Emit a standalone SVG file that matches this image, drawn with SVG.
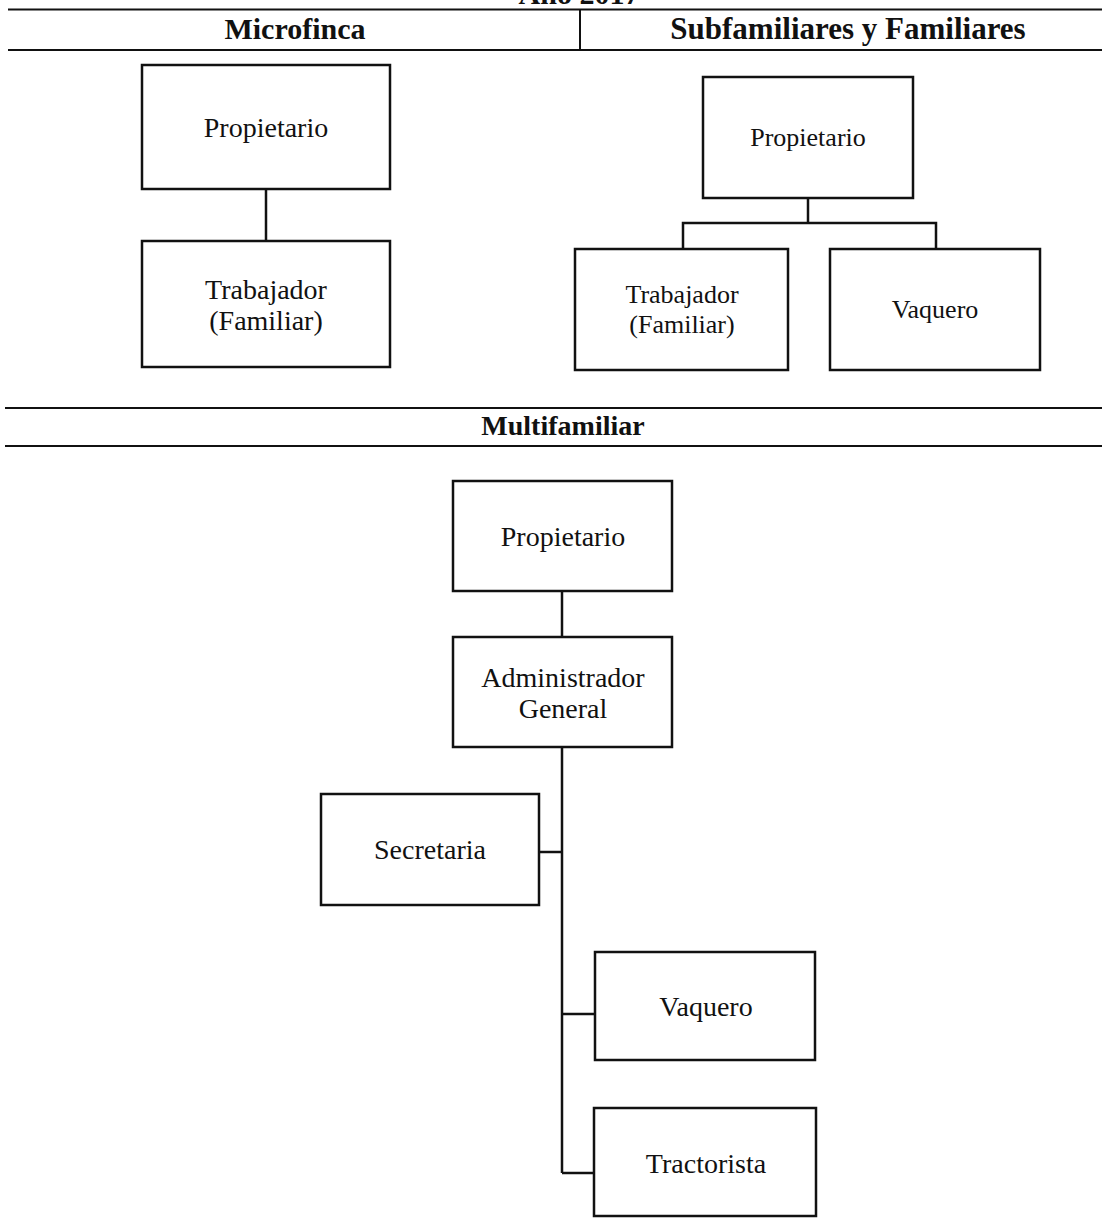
<svg xmlns="http://www.w3.org/2000/svg" width="1102" height="1218" viewBox="0 0 1102 1218">
<style>
.box{fill:#fff;stroke:#111;stroke-width:2.5}
.rule{stroke:#111;stroke-width:2;fill:none}
.conn{stroke:#111;stroke-width:2.5;fill:none}
.t{font-family:"Liberation Serif","Times New Roman",serif;font-size:28px;fill:#111;text-anchor:middle}
.ts{font-family:"Liberation Serif","Times New Roman",serif;font-size:26px;fill:#111;text-anchor:middle}
.h{font-family:"Liberation Serif","Times New Roman",serif;font-size:30px;font-weight:bold;fill:#111;text-anchor:middle}
</style>
<rect width="1102" height="1218" fill="#fff"/>
<g id="header">
<text x="579" y="4" class="h">Año 2017</text>
<line class="rule" x1="8" y1="9.5" x2="1102" y2="9.5"/>
<line class="rule" x1="8" y1="50" x2="1102" y2="50"/>
<line class="rule" x1="580" y1="9.5" x2="580" y2="50"/>
<text x="295" y="39" class="h">Microfinca</text>
<text x="848" y="39" class="h" style="font-size:31px">Subfamiliares y Familiares</text>
<line class="rule" x1="5" y1="408" x2="1102" y2="408"/>
<line class="rule" x1="5" y1="446" x2="1102" y2="446"/>
<text x="563" y="435" class="h" style="font-size:28px">Multifamiliar</text>
</g>
<g id="connectors">
<line class="conn" x1="266" y1="190" x2="266" y2="241"/>
<polyline class="conn" points="808,198 808,223"/>
<polyline class="conn" points="683,249 683,223 936,223 936,249"/>
<line class="conn" x1="562" y1="591" x2="562" y2="637"/>
<line class="conn" x1="562" y1="747" x2="562" y2="1173"/>
<line class="conn" x1="539" y1="852" x2="562" y2="852"/>
<line class="conn" x1="562" y1="1014" x2="595" y2="1014"/>
<line class="conn" x1="562" y1="1173" x2="594" y2="1173"/>
</g>
<g id="micro-propietario">
<rect class="box" x="142" y="65" width="248" height="124"/>
<text x="266" y="137" class="t">Propietario</text>
</g>
<g id="micro-trabajador">
<rect class="box" x="142" y="241" width="248" height="126"/>
<text x="266" y="299" class="t">Trabajador</text>
<text x="266" y="330" class="t">(Familiar)</text>
</g>
<g id="sub-propietario">
<rect class="box" x="703" y="77" width="210" height="121"/>
<text x="808" y="146" class="ts">Propietario</text>
</g>
<g id="sub-trabajador">
<rect class="box" x="575" y="249" width="213" height="121"/>
<text x="682" y="303" class="ts">Trabajador</text>
<text x="682" y="333" class="ts">(Familiar)</text>
</g>
<g id="sub-vaquero">
<rect class="box" x="830" y="249" width="210" height="121"/>
<text x="935" y="318" class="ts">Vaquero</text>
</g>
<g id="multi-propietario">
<rect class="box" x="453" y="481" width="219" height="110"/>
<text x="563" y="546" class="t">Propietario</text>
</g>
<g id="multi-administrador">
<rect class="box" x="453" y="637" width="219" height="110"/>
<text x="563" y="687" class="t">Administrador</text>
<text x="563" y="718" class="t">General</text>
</g>
<g id="multi-secretaria">
<rect class="box" x="321" y="794" width="218" height="111"/>
<text x="430" y="859" class="t">Secretaria</text>
</g>
<g id="multi-vaquero">
<rect class="box" x="595" y="952" width="220" height="108"/>
<text x="706" y="1016" class="t">Vaquero</text>
</g>
<g id="multi-tractorista">
<rect class="box" x="594" y="1108" width="222" height="108"/>
<text x="706" y="1173" class="t">Tractorista</text>
</g>
</svg>
